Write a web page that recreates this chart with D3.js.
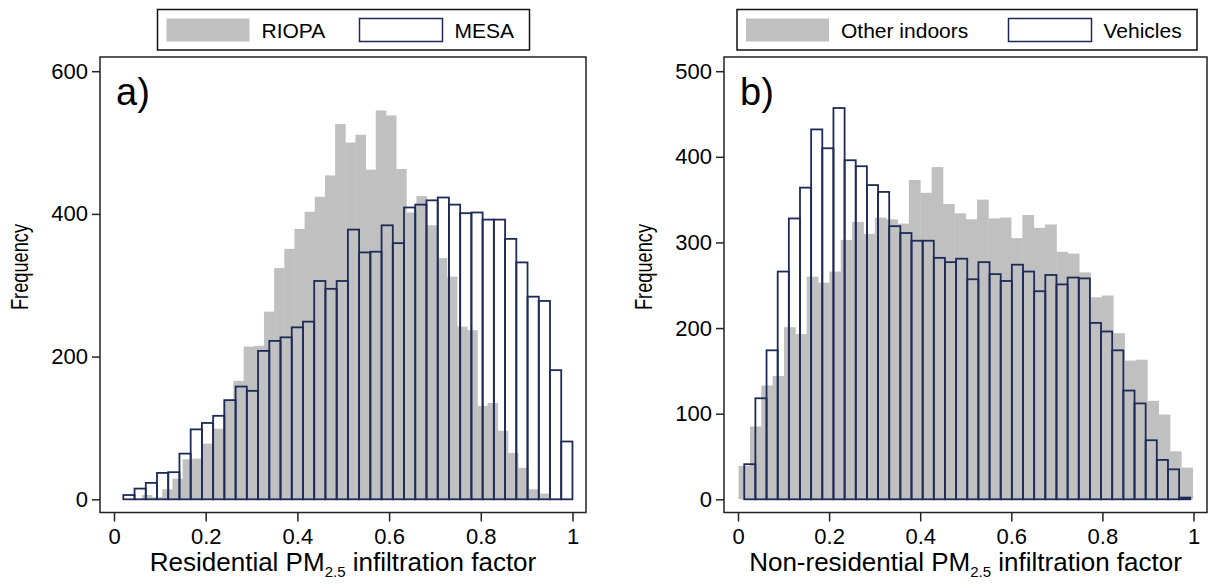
<!DOCTYPE html>
<html>
<head>
<meta charset="utf-8">
<script src="https://cdn.jsdelivr.net/npm/d3@7"></script>
<style>
body { margin: 0; background: #fff; }
text { font-family: "Liberation Sans", Arial, Helvetica, sans-serif; fill: #000; }
</style>
</head>
<body>
<div id="container"></div>
<script>
var width = 1210;
var height = 584;

// panel a: residential
var legendA = ["RIOPA", "MESA"];
var riopaStart = 0.061, riopaBin = 0.02217;
var riopa = [6, 3, 14, 29, 56, 57, 78, 99, 138, 166,
             214, 215, 263, 324, 351, 379, 403, 424, 454, 526,
             500, 511, 462, 545, 538, 463, 402, 425, 384, 338,
             312, 242, 237, 131, 135, 96, 65, 44, 14, 8];
var mesaStart = 0.0203, mesaBin = 0.02449;
var mesa = [6, 15, 23, 37, 38, 64, 98, 107, 117, 139,
            158, 152, 208, 222, 227, 241, 249, 306, 295, 306,
            378, 346, 347, 384, 359, 409, 413, 419, 423, 413,
            401, 402, 392, 392, 365, 332, 284, 278, 181, 81];

// panel b: non-residential
var legendB = ["Other indoors", "Vehicles"];
var otherStart = 0.0013, otherBin = 0.02492;
var otherIndoors = [39, 85, 133, 144, 201, 193, 260, 253, 266, 303,
                    324, 310, 329, 327, 322, 373, 358, 388, 345, 334,
                    327, 350, 328, 329, 305, 332, 317, 321, 289, 287,
                    265, 236, 238, 194, 162, 163, 115, 99, 56, 37];
var vehStart = 0.0137, vehBin = 0.02448;
var vehicles = [41, 118, 174, 266, 328, 364, 432, 410, 457, 396,
                389, 367, 359, 319, 311, 302, 302, 282, 277, 281,
                257, 277, 263, 255, 274, 266, 243, 262, 251, 259,
                258, 206, 196, 174, 127, 112, 69, 46, 35, 2];

var xTicks = [0, 0.2, 0.4, 0.6, 0.8, 1];
var yTicksA = [0, 200, 400, 600];
var yTicksB = [0, 100, 200, 300, 400, 500];

var grey = "#c0c0c0";
var navy = "#1e2b58";

var svg = d3.select("#container").append("svg")
    .attr("width", width).attr("height", height);

function drawPanel(p) {
    var g = svg.append("g");
    var x = d3.scaleLinear().domain([0, 1]).range([p.left + 14, p.right - 13.5]);
    var y = d3.scaleLinear().domain([0, p.yMax]).range([499.3, 71.2]);
    var top = 57, bottom = 512.5;

    // filled histogram
    g.selectAll(".fill").data(p.fillData).enter().append("rect")
        .attr("x", function(d, i) { return x(p.fillStart + i * p.fillBin); })
        .attr("width", x(p.fillBin) - x(0) + 0.4)
        .attr("y", function(d) { return y(d); })
        .attr("height", function(d) { return y(0) - y(d); })
        .attr("fill", grey);

    // outlined histogram
    g.selectAll(".outline").data(p.lineData).enter().append("rect")
        .attr("x", function(d, i) { return x(p.lineStart + i * p.lineBin); })
        .attr("width", x(p.lineBin) - x(0))
        .attr("y", function(d) { return y(d); })
        .attr("height", function(d) { return y(0) - y(d); })
        .attr("fill", "none")
        .attr("stroke", navy)
        .attr("stroke-width", 1.8);

    // plot frame
    g.append("rect")
        .attr("x", p.left).attr("y", top)
        .attr("width", p.right - p.left).attr("height", bottom - top)
        .attr("fill", "none").attr("stroke", "#222").attr("stroke-width", 1.5);

    var yAxis = g.append("g")
        .attr("transform", "translate(" + p.left + ",0)")
        .call(d3.axisLeft(y).tickValues(p.yTicks).tickSize(8).tickPadding(4));
    var xAxis = g.append("g")
        .attr("transform", "translate(0," + bottom + ")")
        .call(d3.axisBottom(x).tickValues(xTicks).tickSize(9).tickPadding(7)
            .tickFormat(d3.format("~g")));
    [yAxis, xAxis].forEach(function(a) {
        a.select(".domain").remove();
        a.selectAll(".tick line").attr("stroke", "#222").attr("stroke-width", 1.5);
        a.selectAll(".tick text").attr("font-size", 22).attr("font-family", null);
    });

    // panel letter
    g.append("text").attr("x", p.left + 16).attr("y", 105)
        .attr("font-size", 38).text(p.letter);

    // axis titles
    g.append("text")
        .attr("transform", "translate(" + (p.left - 72) + ",267) rotate(-90)")
        .attr("text-anchor", "middle").attr("font-size", 23)
        .attr("textLength", 86).attr("lengthAdjust", "spacingAndGlyphs")
        .text("Frequency");
    var t = g.append("text")
        .attr("x", (p.left + p.right) / 2).attr("y", 571)
        .attr("text-anchor", "middle").attr("font-size", 26);
    t.append("tspan").text(p.xPrefix + "PM");
    t.append("tspan").attr("font-size", 15).attr("dy", 6).text("2.5");
    t.append("tspan").attr("dy", -6).text(" infiltration factor");

    // legend
    var lg = svg.append("g");
    lg.append("rect")
        .attr("x", p.legX).attr("y", 9.5).attr("width", p.legW).attr("height", 40.5)
        .attr("fill", "#fff").attr("stroke", "#111").attr("stroke-width", 1.5);
    p.legend.forEach(function(name, i) {
        var sx = p.legX + p.legItems[i];
        lg.append("rect")
            .attr("x", sx).attr("y", 18.5).attr("width", 83).attr("height", 23)
            .attr("fill", i === 0 ? grey : "#fff")
            .attr("stroke", i === 0 ? "none" : navy)
            .attr("stroke-width", 1.5);
        lg.append("text").attr("x", sx + 95).attr("y", 37.5)
            .attr("font-size", 21).text(name);
    });
}

drawPanel({
    left: 100, right: 586, yMax: 600, yTicks: yTicksA, letter: "a)",
    fillData: riopa, fillStart: riopaStart, fillBin: riopaBin,
    lineData: mesa, lineStart: mesaStart, lineBin: mesaBin,
    xPrefix: "Residential ", legend: legendA,
    legX: 157.5, legW: 372, legItems: [9, 202]
});

drawPanel({
    left: 724, right: 1207, yMax: 500, yTicks: yTicksB, letter: "b)",
    fillData: otherIndoors, fillStart: otherStart, fillBin: otherBin,
    lineData: vehicles, lineStart: vehStart, lineBin: vehBin,
    xPrefix: "Non-residential ", legend: legendB,
    legX: 737, legW: 460, legItems: [9, 271.5]
});
</script>
</body>
</html>
